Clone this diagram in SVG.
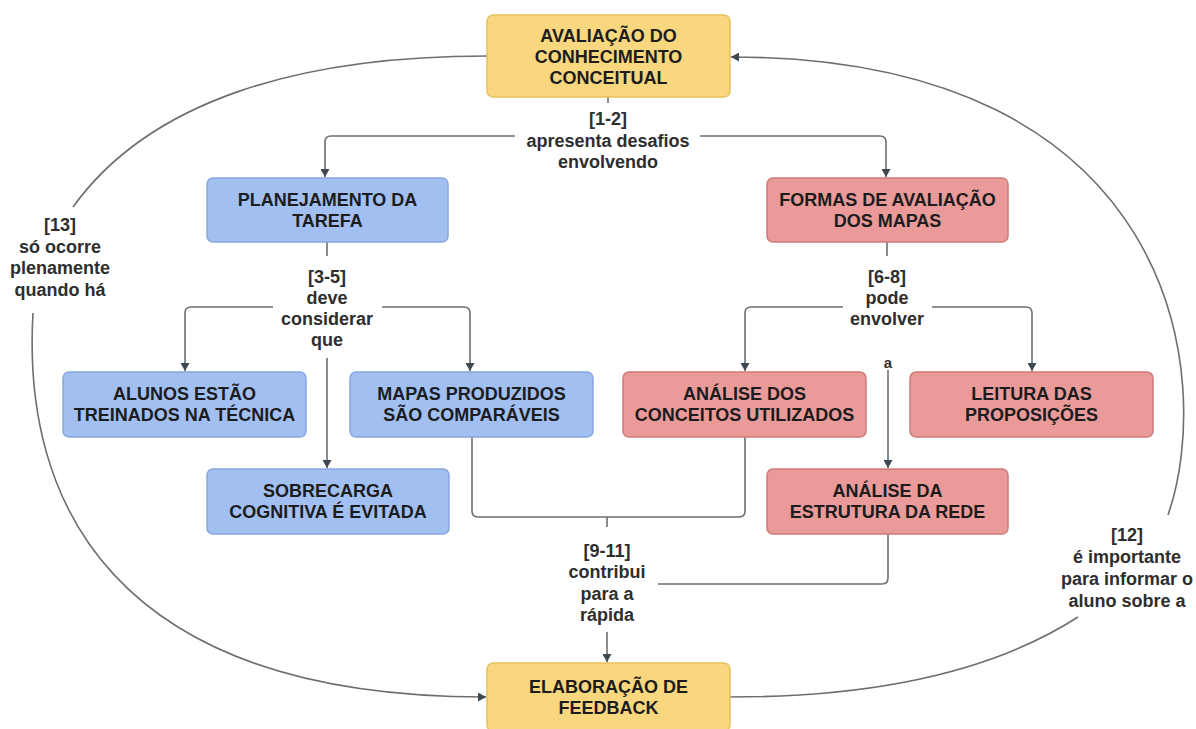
<svg xmlns="http://www.w3.org/2000/svg" width="1196" height="729" viewBox="0 0 1196 729">
<style>
.node rect{stroke-width:1.5}
.yellow rect{fill:#f8d77f;stroke:#e9c15e}
.blue rect{fill:#a2bff2;stroke:#86a6dc}
.red rect{fill:#eb9a9a;stroke:#cf7a7a}
.nt{font-family:"Liberation Sans",Arial,sans-serif;font-weight:bold;font-size:18px;fill:#1c1c1c;text-anchor:middle}
.lt{font-family:"Liberation Sans",Arial,sans-serif;font-weight:bold;font-size:18px;fill:#2e2e2e;text-anchor:middle}
.c{fill:none;stroke:#6e6e6e;stroke-width:1.6}
.a{marker-end:url(#arr)}
</style>
<defs>
<marker id="arr" markerUnits="userSpaceOnUse" markerWidth="9" markerHeight="9" refX="8" refY="4.5" orient="auto">
<path d="M0,0 L8,4.5 L0,9 z" fill="#3e4852"/>
</marker>
</defs>
<rect width="1196" height="729" fill="#ffffff"/>
<g id="connectors">
<path class="c" d="M608,97 V103"/>
<path class="c a" d="M515,136 H331 Q325,136 325,142 V177"/>
<path class="c a" d="M700,136 H880 Q886,136 886,142 V177"/>
<path class="c" d="M327,242 V256"/>
<path class="c a" d="M273,307 H191 Q185,307 185,313 V371"/>
<path class="c a" d="M382,307 H464 Q470,307 470,313 V371"/>
<path class="c a" d="M327,358 V468"/>
<path class="c" d="M887,242 V256"/>
<path class="c a" d="M843,307 H751 Q745,307 745,313 V371"/>
<path class="c a" d="M932,307 H1026 Q1032,307 1032,313 V371"/>
<path class="c a" d="M888,370 V468"/>
<path class="c" d="M472,437 V511 Q472,517 478,517 H739 Q745,517 745,511 V437"/>
<path class="c" d="M607,517 V527"/>
<path class="c" d="M888,534 V578 Q888,584 882,584 H658"/>
<path class="c a" d="M607,632 V662"/>
<path class="c" d="M487,56 C300,56 150,100 73,207"/>
<path class="c a" d="M33,313 C22,500 110,697 486,697"/>
<path class="c" d="M730,697 C850,697 980,680 1078,617"/>
<path class="c a" d="M1168,515 C1215,380 1180,57 731,57"/>
</g>
<g id="labels">
<text class="lt" x="608"><tspan x="608" y="125">[1-2]</tspan><tspan x="608" y="147">apresenta desafios</tspan><tspan x="608" y="168">envolvendo</tspan></text>
<text class="lt"><tspan x="327" y="283">[3-5]</tspan><tspan x="327" y="304">deve</tspan><tspan x="327" y="325">considerar</tspan><tspan x="327" y="346">que</tspan></text>
<text class="lt"><tspan x="887" y="283">[6-8]</tspan><tspan x="887" y="304">pode</tspan><tspan x="887" y="325">envolver</tspan></text>
<text class="lt" style="font-size:15px"><tspan x="888" y="368">a</tspan></text>
<text class="lt"><tspan x="607" y="557">[9-11]</tspan><tspan x="607" y="578">contribui</tspan><tspan x="607" y="600">para a</tspan><tspan x="607" y="621">rápida</tspan></text>
<text class="lt"><tspan x="60" y="231">[13]</tspan><tspan x="60" y="253">só ocorre</tspan><tspan x="60" y="274">plenamente</tspan><tspan x="60" y="296">quando há</tspan></text>
<text class="lt"><tspan x="1127" y="541">[12]</tspan><tspan x="1127" y="563">é importante</tspan><tspan x="1127" y="585">para informar o</tspan><tspan x="1127" y="607">aluno sobre a</tspan></text>
</g>
<g id="n1" class="node yellow"><rect x="487" y="15" width="243" height="82" rx="6"/><text class="nt"><tspan x="608.5" y="42">AVALIAÇÃO DO</tspan><tspan x="608.5" y="63">CONHECIMENTO</tspan><tspan x="608.5" y="84">CONCEITUAL</tspan></text></g>
<g id="n2" class="node blue"><rect x="207" y="178" width="241" height="64" rx="6"/><text class="nt"><tspan x="327.5" y="206">PLANEJAMENTO DA</tspan><tspan x="327.5" y="227">TAREFA</tspan></text></g>
<g id="n3" class="node red"><rect x="767" y="178" width="241" height="64" rx="6"/><text class="nt"><tspan x="887.5" y="206">FORMAS DE AVALIAÇÃO</tspan><tspan x="887.5" y="227">DOS MAPAS</tspan></text></g>
<g id="n4" class="node blue"><rect x="63" y="372" width="243" height="65" rx="6"/><text class="nt"><tspan x="184.5" y="400">ALUNOS ESTÃO</tspan><tspan x="184.5" y="421">TREINADOS NA TÉCNICA</tspan></text></g>
<g id="n5" class="node blue"><rect x="350" y="372" width="243" height="65" rx="6"/><text class="nt"><tspan x="471.5" y="400">MAPAS PRODUZIDOS</tspan><tspan x="471.5" y="421">SÃO COMPARÁVEIS</tspan></text></g>
<g id="n6" class="node blue"><rect x="207" y="469" width="242" height="65" rx="6"/><text class="nt"><tspan x="328" y="497">SOBRECARGA</tspan><tspan x="328" y="518">COGNITIVA É EVITADA</tspan></text></g>
<g id="n7" class="node red"><rect x="623" y="372" width="243" height="65" rx="6"/><text class="nt"><tspan x="744.5" y="400">ANÁLISE DOS</tspan><tspan x="744.5" y="421">CONCEITOS UTILIZADOS</tspan></text></g>
<g id="n8" class="node red"><rect x="910" y="372" width="243" height="65" rx="6"/><text class="nt"><tspan x="1031.5" y="400">LEITURA DAS</tspan><tspan x="1031.5" y="421">PROPOSIÇÕES</tspan></text></g>
<g id="n9" class="node red"><rect x="767" y="469" width="241" height="65" rx="6"/><text class="nt"><tspan x="887.5" y="497">ANÁLISE DA</tspan><tspan x="887.5" y="518">ESTRUTURA DA REDE</tspan></text></g>
<g id="n10" class="node yellow"><rect x="487" y="663" width="243" height="68" rx="6"/><text class="nt"><tspan x="608.5" y="693">ELABORAÇÃO DE</tspan><tspan x="608.5" y="714">FEEDBACK</tspan></text></g>
</svg>
